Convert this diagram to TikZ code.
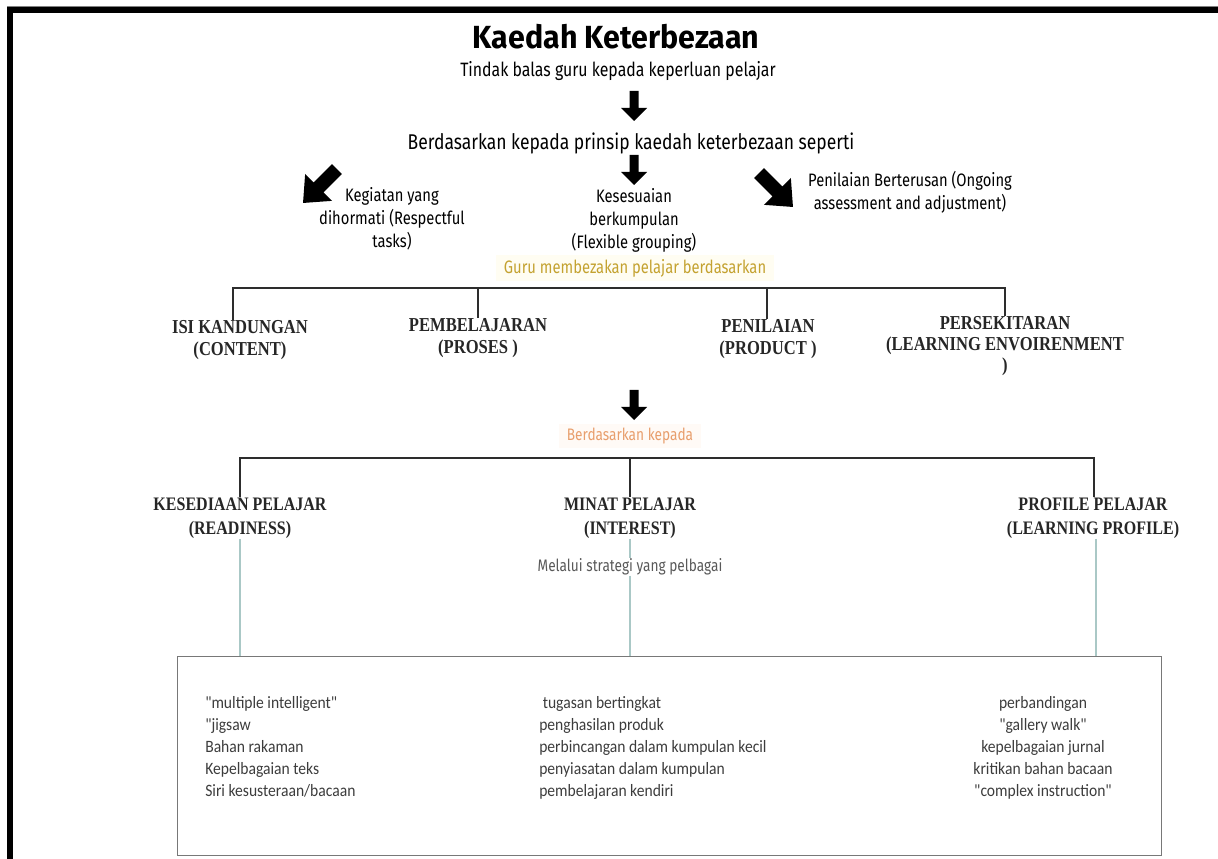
\documentclass[tikz,border=0pt]{standalone}
\usepackage{fontspec}
\setmainfont{Fira Sans}
\newfontfamily\upfont[FakeStretch=0.82]{Fira Sans}
\newfontfamily\ttlfont[FakeStretch=0.95]{Fira Sans}
\newfontfamily\serfont[FakeStretch=0.84]{Liberation Serif}
\newfontfamily\boxfont[FakeStretch=0.9]{Carlito}
\usetikzlibrary{calc}
\definecolor{gold}{RGB}{196,162,48}
\definecolor{goldbg}{RGB}{255,253,242}
\definecolor{orangetx}{RGB}{232,158,108}
\definecolor{orangebg}{RGB}{255,250,246}
\definecolor{thinline}{RGB}{170,200,198}
\definecolor{boxline}{RGB}{120,120,120}
\definecolor{boxtext}{RGB}{60,60,60}
\definecolor{barline}{RGB}{45,45,45}
\tikzset{
  x=0.75pt, y=-0.75pt,
  ttl/.style={inner sep=0pt, font=\ttlfont\bfseries\fontsize{24}{28}\selectfont},
  uptext/.style={inner sep=0pt, align=center, font=\upfont\fontsize{#1}{17.25}\selectfont},
  uptext/.default=12.5,
  lab/.style={inner sep=0pt, align=center, font=\serfont\bfseries\fontsize{14.8}{16}\selectfont, text=black!85},
  labb/.style={inner sep=0pt, align=center, font=\serfont\bfseries\fontsize{14.3}{18}\selectfont, text=black!85},
  boxtx/.style={inner sep=0pt, align=left, font=\boxfont\fontsize{13}{16.5}\selectfont, text=boxtext},
  bracket/.style={draw=barline, line width=2pt},
  thin/.style={draw=thinline, line width=1.1pt},
  pics/bigarrow/.style={code={
    \fill[black] (-4.5,-15) -- (4.5,-15) -- (4.5,2) -- (13,2) -- (0,15) -- (-13,2) -- (-4.5,2) -- cycle;
  }},
  pics/diagarrow/.style={code={
    \fill[black] (-7,-24) -- (7,-24) -- (7,2) -- (19,2) -- (0,24) -- (-19,2) -- (-7,2) -- cycle;
  }}
}
\begin{document}
\begin{tikzpicture}
\useasboundingbox (0,0) rectangle (1218,859);
% frame
\fill[black] (7,7) rectangle (1218,13);
\fill[black] (7,7) rectangle (13,859);
\draw[gray, line width=0.6pt] (7,6.2) -- (1218,6.2);

% top part
\node[ttl] (title) at (616,37) {Kaedah Keterbezaan};
\node[uptext=14.5] (resp) at (618,71) {Tindak balas guru kepada keperluan pelajar};
\pic at (634,106) {bigarrow};
\node[uptext=16] (prin) at (631,143) {Berdasarkan kepada prinsip kaedah keterbezaan seperti};
\pic[rotate=-45] at (320,186) {diagarrow};
\pic at (634,170) {bigarrow};
\pic[rotate=45] at (776,190) {diagarrow};
\node[uptext=13.5] (keg) at (392,219) {Kegiatan yang\\dihormati (Respectful\\tasks)};
\node[uptext=13.5] (kes) at (634,220) {Kesesuaian\\berkumpulan\\(Flexible grouping)};
\node[uptext=13.5] (pen) at (910,192) {Penilaian Berterusan (Ongoing\\assessment and adjustment)};
\node[uptext=13.5, text=gold, fill=goldbg, inner xsep=6pt, inner ysep=3pt] (guru) at (635,268) {Guru membezakan pelajar berdasarkan};

% first bracket
\coordinate (t1) at (233,288);
\coordinate (t2) at (478,288);
\coordinate (t3) at (767,288);
\coordinate (t4) at (1005,288);
\node[lab] (isi) at (240,340) {ISI KANDUNGAN\\(CONTENT)};
\node[lab] (pemb) at (478,338) {PEMBELAJARAN\\(PROSES )};
\node[lab] (peni) at (768,339) {PENILAIAN\\(PRODUCT )};
\node[lab, anchor=north] (pers) at (1005,316) {PERSEKITARAN\\(LEARNING ENVOIRENMENT\\)};
\draw[bracket] (t1 |- isi.north) -- (t1) -- (t4) -- (t4 |- pers.north);
\draw[bracket] (t2) -- (t2 |- pemb.north);
\draw[bracket] (t3) -- (t3 |- peni.north);

\pic at (634,405) {bigarrow};
\node[uptext, text=orangetx, fill=orangebg, inner xsep=6pt, inner ysep=3pt] (berd) at (630,436) {Berdasarkan kepada};

% second bracket
\coordinate (u1) at (240,458);
\coordinate (u2) at (630,458);
\coordinate (u3) at (1094,458);
\node[labb] (kese) at (240,518) {KESEDIAAN PELAJAR\\(READINESS)};
\node[labb] (mina) at (630,518) {MINAT PELAJAR\\(INTEREST)};
\node[labb] (prof) at (1093,518) {PROFILE PELAJAR\\(LEARNING PROFILE)};
\draw[bracket] (u1 |- kese.north) -- (u1) -- (u3) -- (u3 |- prof.north);
\draw[bracket] (u2) -- (u2 |- mina.north);

\node[uptext, text=black!65] (mel) at (630,567) {Melalui strategi yang pelbagai};

% box
\node[draw=boxline, line width=1.1pt, minimum width=984*0.75pt, minimum height=199*0.75pt, inner sep=0pt, anchor=north west] (box) at (177,656) {};
\draw[thin] (kese.south -| u1) -- (box.north -| u1);
\draw[thin] (mina.south) -- (mel.north);
\draw[thin] (mel.south) -- (box.north -| u2);
\draw[thin] (prof.south -| 1096,0) -- (box.north -| 1096,0);

\node[boxtx, anchor=north west] (c1) at (205,696) {"multiple intelligent"\\"jigsaw\\Bahan rakaman\\Kepelbagaian teks\\Siri kesusteraan/bacaan};
\node[boxtx, anchor=north west] (c2) at (539,696) {\ tugasan bertingkat\\penghasilan produk\\perbincangan dalam kumpulan kecil\\penyiasatan dalam kumpulan\\pembelajaran kendiri};
\node[boxtx, align=center, anchor=north] (c3) at (1043,696) {perbandingan\\"gallery walk"\\kepelbagaian jurnal\\kritikan bahan bacaan\\"complex instruction"};
\end{tikzpicture}
\end{document}
